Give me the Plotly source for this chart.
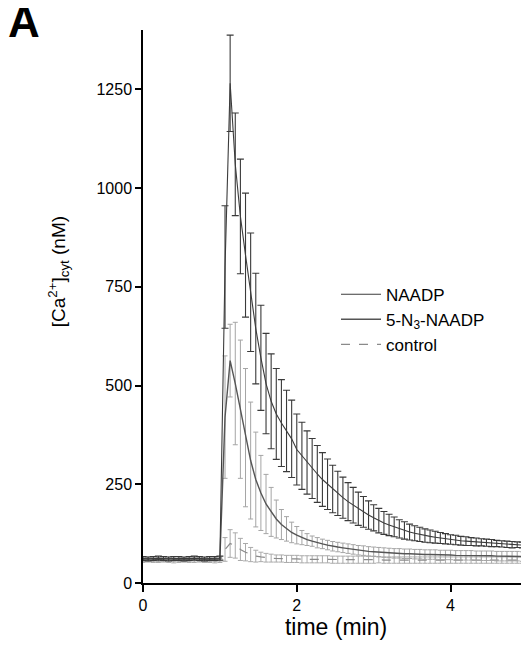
import plotly.graph_objects as go

# time in minutes, one sample every 4 s
time_min = [k / 15 for k in range(76)]

naadp = [62, 61, 62, 63, 62, 61, 62, 62, 61, 62, 63, 62, 61, 62, 62, 63,
         800, 1265, 1060, 928, 830, 736, 644, 570, 505, 460, 428, 405, 385, 365,
         338, 322, 305, 290, 276, 262, 250, 238, 227, 216, 206, 197, 188, 180, 172,
         165, 158, 152, 147, 142, 137, 133, 129, 126, 123, 120, 118, 116, 114, 112,
         110, 109, 107, 106, 105, 104, 103, 102, 101, 100, 99, 98, 97, 97, 96, 95]
naadp_err = [5] * 16 + [155, 122, 130, 145, 157, 150, 140, 133, 127, 120, 115, 110, 103, 98,
                        90, 85, 80, 76, 72, 68, 64, 60, 56, 52, 48, 45, 42, 39, 36,
                        33, 31, 29, 27, 25, 23, 22, 20, 19, 18, 17, 16, 15, 14, 13,
                        12, 12, 11, 11, 10, 10, 9, 9, 9, 8, 8, 8, 8, 7, 7, 7]

n3_naadp = [60, 61, 60, 59, 60, 61, 60, 60, 59, 60, 61, 60, 60, 59, 60, 61,
            420, 563, 505, 440, 368, 310, 262, 228, 200, 180, 162, 148, 137, 128,
            121, 115, 110, 106, 102, 99, 96, 93, 91, 89, 87, 85, 83, 82, 80,
            79, 78, 77, 76, 75, 75, 74, 74, 73, 73, 72, 72, 72, 71, 71,
            71, 70, 70, 70, 70, 69, 69, 69, 69, 68, 68, 68, 68, 68, 67, 67]
n3_err = [5] * 16 + [155, 92, 155, 175, 175, 148, 120, 95, 75, 62, 48, 38, 31, 26,
                     22, 18, 15, 13, 13] + [12] * 41

control = [57, 58, 57, 57, 58, 57, 56, 57, 58, 57, 57, 58, 57, 57, 56, 57,
           85, 100, 95, 85, 78, 72, 68, 66, 64, 63, 62, 62, 61, 61,
           61, 60, 60, 60, 60, 60, 60, 59, 59, 59, 59, 59, 59, 59, 59,
           59, 59, 58, 58, 58, 58, 58, 58, 58, 58, 58, 58, 58, 58, 58,
           58, 58, 58, 58, 58, 58, 58, 58, 58, 58, 58, 58, 58, 58, 58, 58]
control_err = [5] * 16 + [30, 35, 32, 28, 22, 18, 15, 12, 11, 10] + [9] * 20 + [8] * 30

fig = go.Figure()

fig.add_scatter(x=time_min, y=control, name='control', mode='lines',
                line=dict(color='#8a8a8a', width=1.2, dash='dash'),
                error_y=dict(type='data', array=control_err, color='#aaaaaa',
                             thickness=1, width=2.5))
fig.add_scatter(x=time_min, y=n3_naadp, name='5-N<sub>3</sub>-NAADP', mode='lines',
                line=dict(color='#555555', width=1.4),
                error_y=dict(type='data', array=n3_err, color='#a5a5a5',
                             thickness=1, width=2.5))
fig.add_scatter(x=time_min, y=naadp, name='NAADP', mode='lines',
                line=dict(color='#3c3c3c', width=1.1),
                error_y=dict(type='data', array=naadp_err, color='#3a3a3a',
                             thickness=1.1, width=3.5))

# page body has an 8px margin, so the figure is sized 8px smaller each way
fig.update_layout(
    width=521, height=641,
    margin=dict(l=135, r=0, t=22, b=66),
    plot_bgcolor='white', paper_bgcolor='white',
    font=dict(family='Liberation Sans, Arial, sans-serif', size=16, color='black'),
    showlegend=True,
    legend=dict(x=0.50, y=0.554, xanchor='left', yanchor='top',
                traceorder='reversed', bgcolor='rgba(0,0,0,0)',
                font=dict(size=17), itemwidth=40, tracegroupgap=0),
    xaxis=dict(range=[0, 5.02], tickvals=[0, 2, 4], showgrid=False, zeroline=False,
               showline=True, linecolor='black', linewidth=1.5,
               ticks='outside', ticklen=7, tickwidth=1.5, tickcolor='black',
               title=dict(text='time (min)', font=dict(size=23), standoff=6)),
    yaxis=dict(range=[0, 1400], tickvals=[0, 250, 500, 750, 1000, 1250],
               showgrid=False, zeroline=False,
               showline=True, linecolor='black', linewidth=1.5,
               ticks='outside', ticklen=6, tickwidth=1.5, tickcolor='black'),
    annotations=[
        dict(text='[Ca<sup>2+</sup>]<sub>cyt</sub> (nM)', textangle=-90,
             xref='paper', yref='paper', x=-0.22, y=0.562, xanchor='center', yanchor='middle',
             showarrow=False, font=dict(size=19)),
        dict(text='<b>A</b>', xref='paper', yref='paper', x=-0.308, y=1.015,
             xanchor='center', yanchor='middle', showarrow=False,
             font=dict(size=44, family='Liberation Sans, Arial, sans-serif')),
    ],
)

fig.write_html("out.html")
